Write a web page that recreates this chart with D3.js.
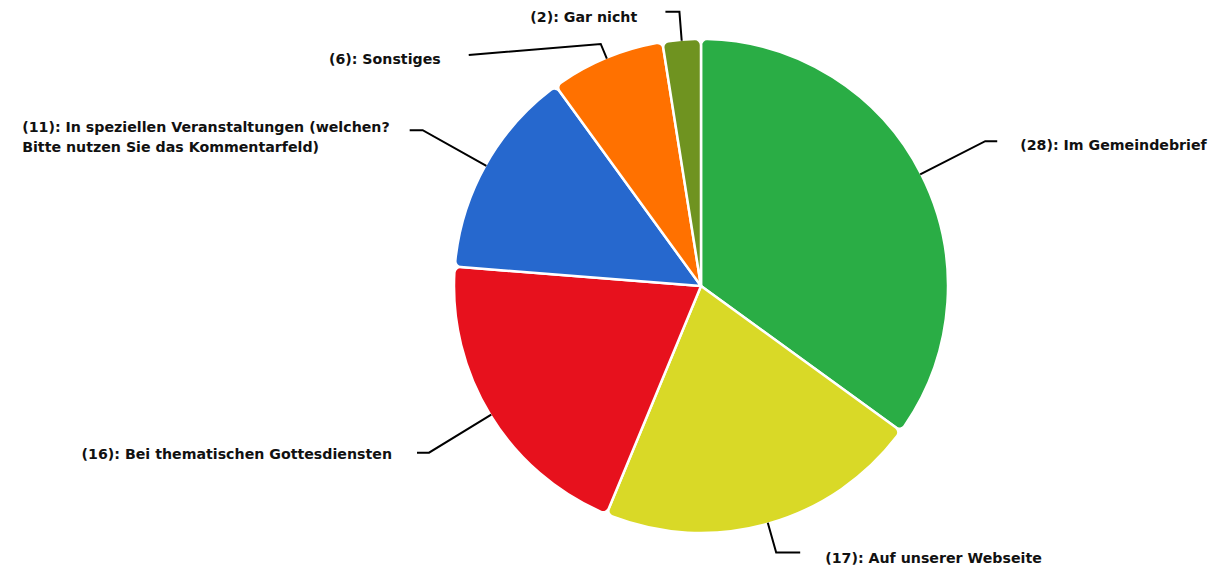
<!DOCTYPE html>
<html>
<head>
<meta charset="utf-8">
<script src="https://cdn.jsdelivr.net/npm/d3@7"></script>
<style>
  html, body { margin: 0; padding: 0; background: #fff; }
  svg { display: block; }
  text { font-family: "DejaVu Sans", sans-serif; font-weight: bold; font-size: 14.2px; fill: #111; }
</style>
</head>
<body>
<svg id="chart" width="1209" height="569"></svg>
<script>
// ---- data ----
const categories = [
  "Im Gemeindebrief",
  "Auf unserer Webseite",
  "Bei thematischen Gottesdiensten",
  "In speziellen Veranstaltungen (welchen? Bitte nutzen Sie das Kommentarfeld)",
  "Sonstiges",
  "Gar nicht"
];
const values = [28, 17, 16, 11, 6, 2];
const labelLines = [
  ["(28): Im Gemeindebrief"],
  ["(17): Auf unserer Webseite"],
  ["(16): Bei thematischen Gottesdiensten"],
  ["(11): In speziellen Veranstaltungen (welchen?", "Bitte nutzen Sie das Kommentarfeld)"],
  ["(6): Sonstiges"],
  ["(2): Gar nicht"]
];
const colors = ["#2aad45", "#d9d927", "#e7111d", "#2668ce", "#ff7100", "#6f9320"];

// ---- label layout (positions, not data) ----
const elbowR = [319, 277, 319, 319, 262, 275];
const endDx  = [12, 24, -12, -13, -132, -14];
const endDy  = [0, 0, 0, 0, 11, 0];
const textGap = [23, 25, 25, 20, 28, 28];
const textDy = [4, 5, 1, 7, 4, 5];

const svg = d3.select("#chart");
const cx = 701, cy = 286, R = 247;
const g = svg.append("g").attr("transform", `translate(${cx},${cy})`);

const pie = d3.pie().sort(null).value(d => d);
const arcs = pie(values);
const arc = d3.arc().innerRadius(0).outerRadius(R).cornerRadius(6);

g.selectAll("path.slice")
  .data(arcs)
  .join("path")
  .attr("class", "slice")
  .attr("d", arc)
  .attr("fill", (d, i) => colors[i])
  .attr("stroke", "#fff")
  .attr("stroke-width", 2.5)
  .attr("stroke-linejoin", "round");

// leader lines and labels
arcs.forEach((d, i) => {
  const a = (d.startAngle + d.endAngle) / 2;
  const sx = Math.sin(a) * (R - 1), sy = -Math.cos(a) * (R - 1);
  const ex = Math.sin(a) * elbowR[i], ey = -Math.cos(a) * elbowR[i];
  const tx = ex + endDx[i], ty = ey + endDy[i];
  g.append("path")
    .attr("d", d3.line()([[sx, sy], [ex, ey], [tx, ty]]))
    .attr("fill", "none")
    .attr("stroke", "#000")
    .attr("stroke-width", 2);
  const right = endDx[i] > 0;
  const lines = labelLines[i];
  const lh = 20;
  const t = g.append("text")
    .attr("text-anchor", "start");
  lines.forEach((ln, j) => {
    t.append("tspan")
      .attr("x", 0)
      .attr("y", ty + textDy[i] + (j - (lines.length - 1) / 2) * lh)
      .attr("dominant-baseline", "central")
      .text(ln);
  });
  const w = t.node().getBBox().width;
  const x0 = right ? tx + textGap[i] : tx - textGap[i] - w;
  t.selectAll("tspan").attr("x", x0);
});
</script>
</body>
</html>
